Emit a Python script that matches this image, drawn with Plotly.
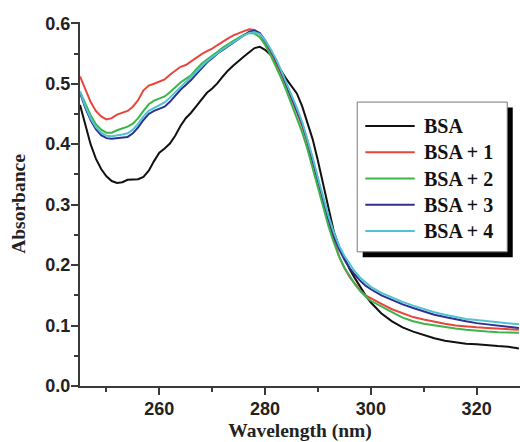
import plotly.graph_objects as go

wavelength = [245, 246, 247, 248, 249, 250, 251, 252, 253, 254, 255, 256, 257, 258, 259,
              260, 261, 262, 263, 264, 265, 266, 267, 268, 269, 270, 271, 272, 273, 274,
              275, 276, 277, 278, 279, 280, 281, 282, 283, 284, 285, 286, 287, 288, 289,
              290, 291, 292, 293, 294, 295, 296, 297, 298, 299, 300, 302, 304, 306, 308,
              310, 312, 314, 316, 318, 320, 322, 324, 326, 328]

bsa = [0.465, 0.430, 0.400, 0.376, 0.359, 0.347, 0.339, 0.336, 0.337, 0.341, 0.342, 0.342, 0.346, 0.356, 0.372,
       0.386, 0.393, 0.401, 0.414, 0.430, 0.443, 0.452, 0.463, 0.475, 0.485, 0.492, 0.501, 0.512, 0.522, 0.530,
       0.538, 0.545, 0.552, 0.559, 0.561, 0.556, 0.548, 0.536, 0.522, 0.508, 0.496, 0.484, 0.463, 0.437, 0.408,
       0.372, 0.333, 0.289, 0.255, 0.230, 0.210, 0.193, 0.178, 0.163, 0.150, 0.138, 0.120, 0.107, 0.097, 0.090,
       0.084, 0.079, 0.075, 0.072, 0.070, 0.069, 0.067, 0.066, 0.065, 0.062]

bsa_1 = [0.512, 0.490, 0.470, 0.455, 0.446, 0.441, 0.443, 0.449, 0.452, 0.455, 0.462, 0.473, 0.489, 0.497, 0.500,
         0.503, 0.507, 0.515, 0.522, 0.528, 0.531, 0.537, 0.544, 0.549, 0.554, 0.558, 0.564, 0.570, 0.575, 0.580,
         0.584, 0.587, 0.590, 0.589, 0.583, 0.568, 0.553, 0.536, 0.517, 0.497, 0.475, 0.453, 0.430, 0.402, 0.370,
         0.336, 0.303, 0.272, 0.243, 0.214, 0.195, 0.180, 0.168, 0.158, 0.150, 0.145, 0.136, 0.127, 0.120, 0.114,
         0.110, 0.106, 0.103, 0.100, 0.098, 0.097, 0.096, 0.095, 0.094, 0.093]

bsa_2 = [0.487, 0.466, 0.448, 0.433, 0.424, 0.419, 0.419, 0.423, 0.426, 0.429, 0.434, 0.443, 0.455, 0.466, 0.472,
         0.475, 0.479, 0.486, 0.494, 0.502, 0.508, 0.514, 0.524, 0.533, 0.540, 0.546, 0.553, 0.560, 0.566, 0.571,
         0.576, 0.581, 0.584, 0.583, 0.577, 0.564, 0.548, 0.530, 0.510, 0.489, 0.467, 0.445, 0.420, 0.392, 0.359,
         0.326, 0.294, 0.264, 0.237, 0.214, 0.196, 0.181, 0.168, 0.157, 0.148, 0.141, 0.131, 0.122, 0.113, 0.107,
         0.103, 0.100, 0.097, 0.095, 0.093, 0.091, 0.090, 0.089, 0.088, 0.088]

bsa_3 = [0.485, 0.460, 0.440, 0.425, 0.415, 0.410, 0.409, 0.410, 0.411, 0.412, 0.418, 0.428, 0.440, 0.450, 0.455,
         0.458, 0.462, 0.470, 0.480, 0.490, 0.498, 0.506, 0.516, 0.526, 0.535, 0.542, 0.550, 0.556, 0.562, 0.568,
         0.575, 0.580, 0.586, 0.588, 0.584, 0.572, 0.557, 0.540, 0.521, 0.500, 0.479, 0.457, 0.434, 0.406, 0.374,
         0.340, 0.307, 0.276, 0.248, 0.226, 0.209, 0.195, 0.184, 0.174, 0.166, 0.160, 0.150, 0.142, 0.135, 0.129,
         0.123, 0.118, 0.114, 0.110, 0.107, 0.104, 0.102, 0.099, 0.097, 0.096]

bsa_4 = [0.488, 0.463, 0.443, 0.428, 0.419, 0.414, 0.413, 0.414, 0.416, 0.418, 0.424, 0.434, 0.446, 0.455, 0.460,
         0.464, 0.469, 0.477, 0.486, 0.495, 0.503, 0.511, 0.520, 0.529, 0.537, 0.544, 0.551, 0.557, 0.563, 0.569,
         0.575, 0.580, 0.584, 0.585, 0.582, 0.572, 0.558, 0.542, 0.523, 0.503, 0.482, 0.460, 0.437, 0.409, 0.378,
         0.344, 0.311, 0.281, 0.254, 0.232, 0.215, 0.201, 0.189, 0.179, 0.171, 0.164, 0.154, 0.146, 0.139, 0.133,
         0.127, 0.122, 0.118, 0.114, 0.111, 0.109, 0.107, 0.105, 0.103, 0.102]

names = ["BSA", "BSA + 1", "BSA + 2", "BSA + 3", "BSA + 4"]
series = [bsa, bsa_1, bsa_2, bsa_3, bsa_4]
colors = ["#111111", "#e8453c", "#3bb54a", "#2e3192", "#4fc3cf"]

fig = go.Figure()
for name, vals, col in zip(names, series, colors):
    fig.add_trace(go.Scatter(x=wavelength, y=vals, mode="lines", name=name,
                             line=dict(color=col, width=2), showlegend=False))

axis_col = "#3a3a3a"
tick_font = dict(family="Liberation Sans, Arial", size=18, color="#222222", weight="bold")
title_font = dict(family="Liberation Serif, Times New Roman", size=19.5, color="#222222", weight="bold")
legend_font = dict(family="Liberation Serif, Times New Roman", size=20, color="#111111", weight="bold")

# Legend box (paper coordinates), drawn with a drop shadow like the original
box_x0, box_x1, box_top = 0.630, 0.971, 0.780
row_gap = 0.0721
shadow = 0.0125
rows = [box_top - 0.066 - i * row_gap for i in range(len(names))]
box_bottom = rows[-1] - 0.057

shapes = [
    dict(type="rect", xref="paper", yref="paper", x0=box_x0 + shadow, x1=box_x1 + shadow,
         y0=box_bottom - 0.015, y1=box_top - 0.015, fillcolor="black", line=dict(width=0), layer="above"),
    dict(type="rect", xref="paper", yref="paper", x0=box_x0, x1=box_x1,
         y0=box_bottom, y1=box_top, fillcolor="white", line=dict(color="#777777", width=1), layer="above"),
]
annotations = []
for name, col, yy in zip(names, colors, rows):
    shapes.append(dict(type="line", xref="paper", yref="paper", x0=0.6484, x1=0.7607, y0=yy, y1=yy,
                       line=dict(color=col, width=2), layer="above"))
    annotations.append(dict(text=name, xref="paper", yref="paper", x=0.7775, y=yy,
                            xanchor="left", yanchor="middle", showarrow=False, font=legend_font))

fig.update_layout(
    width=520, height=442,
    margin=dict(l=80, r=0, t=22, b=54),
    paper_bgcolor="white", plot_bgcolor="white",
    showlegend=False,
    shapes=shapes, annotations=annotations,
)

fig.update_xaxes(range=[245, 328.2], showline=True, linecolor=axis_col, linewidth=2,
                 ticks="outside", ticklen=7, tickwidth=2, tickcolor=axis_col,
                 tick0=260, dtick=20, showgrid=False, zeroline=False, ticklabelstandoff=-2,
                 minor=dict(ticks="outside", ticklen=4, tickwidth=1.5, tickcolor=axis_col, tick0=250, dtick=10),
                 tickfont=tick_font,
                 title=dict(text="Wavelength (nm)", font=title_font, standoff=10))
fig.update_yaxes(range=[0, 0.6021], showline=True, linecolor=axis_col, linewidth=2,
                 ticks="outside", ticklen=7, tickwidth=2, tickcolor=axis_col,
                 tick0=0, dtick=0.1, tickformat=".1f", showgrid=False, zeroline=False, ticklabelstandoff=-3,
                 minor=dict(ticks="outside", ticklen=4, tickwidth=1.5, tickcolor=axis_col, tick0=0, dtick=0.05),
                 tickfont=tick_font,
                 title=dict(text="Absorbance", font=title_font, standoff=15))

fig.write_html("out.html")
